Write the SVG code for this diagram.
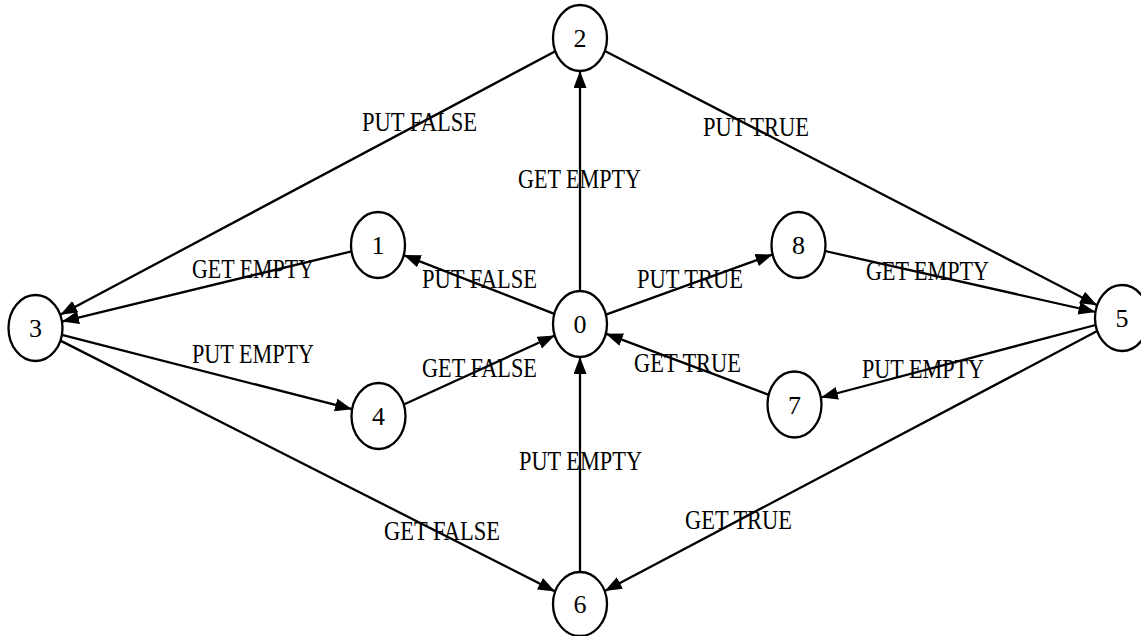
<svg xmlns="http://www.w3.org/2000/svg" width="1141" height="636" viewBox="0 0 1141 636">
<style>
.node ellipse{fill:#fff;stroke:#000;stroke-width:2.3}
.node text{font-family:"Liberation Serif","Times New Roman",serif;font-size:26px;text-anchor:middle;fill:#000}
.edges line{stroke:#000;stroke-width:2.3;marker-end:url(#arr)}
.lbl{font-family:"Liberation Serif","Times New Roman",serif;font-size:27px;fill:#000}
</style>
<defs>
<marker id="arr" markerUnits="userSpaceOnUse" markerWidth="18" markerHeight="14" refX="17" refY="6.5" orient="auto">
<path d="M0,0 L17,6.5 L0,13 z" fill="#000"/>
</marker>
</defs>
<rect width="1141" height="636" fill="#fff"/>
<g class="edges">
<line x1="580" y1="291" x2="580" y2="71"/>
<line x1="555.3" y1="51.2" x2="60.3" y2="314.8"/>
<line x1="604.9" y1="50.9" x2="1097.1" y2="305.2"/>
<line x1="351.5" y1="251.4" x2="62" y2="321.6"/>
<line x1="554.3" y1="313.9" x2="403.7" y2="255.1"/>
<line x1="605.9" y1="314.6" x2="772.6" y2="254.4"/>
<line x1="825" y1="251" x2="1095.5" y2="312"/>
<line x1="61.9" y1="334.8" x2="352.1" y2="409.2"/>
<line x1="403.8" y1="404.5" x2="554.7" y2="335.5"/>
<line x1="768.7" y1="394.8" x2="605.8" y2="333.7"/>
<line x1="1095.6" y1="325" x2="820.9" y2="397.5"/>
<line x1="1097.2" y1="331.1" x2="604.8" y2="590.9"/>
<line x1="60.4" y1="340.6" x2="555.1" y2="591.4"/>
<line x1="580" y1="571" x2="580" y2="357"/>
</g>
<g class="labels">
<text class="lbl" x="362" y="131" textLength="115" lengthAdjust="spacingAndGlyphs">PUT FALSE</text>
<text class="lbl" x="703" y="136" textLength="106" lengthAdjust="spacingAndGlyphs">PUT TRUE</text>
<text class="lbl" x="518" y="188" textLength="123" lengthAdjust="spacingAndGlyphs">GET EMPTY</text>
<text class="lbl" x="192" y="278" textLength="122" lengthAdjust="spacingAndGlyphs">GET EMPTY</text>
<text class="lbl" x="422" y="288" textLength="115" lengthAdjust="spacingAndGlyphs">PUT FALSE</text>
<text class="lbl" x="637" y="288" textLength="106" lengthAdjust="spacingAndGlyphs">PUT TRUE</text>
<text class="lbl" x="866" y="280" textLength="123" lengthAdjust="spacingAndGlyphs">GET EMPTY</text>
<text class="lbl" x="192" y="363" textLength="122" lengthAdjust="spacingAndGlyphs">PUT EMPTY</text>
<text class="lbl" x="422" y="377" textLength="115" lengthAdjust="spacingAndGlyphs">GET FALSE</text>
<text class="lbl" x="634" y="372" textLength="107" lengthAdjust="spacingAndGlyphs">GET TRUE</text>
<text class="lbl" x="862" y="378" textLength="122" lengthAdjust="spacingAndGlyphs">PUT EMPTY</text>
<text class="lbl" x="519" y="470" textLength="123" lengthAdjust="spacingAndGlyphs">PUT EMPTY</text>
<text class="lbl" x="384" y="540" textLength="116" lengthAdjust="spacingAndGlyphs">GET FALSE</text>
<text class="lbl" x="685" y="529" textLength="107" lengthAdjust="spacingAndGlyphs">GET TRUE</text>
</g>
<g id="node0" class="node"><ellipse cx="580" cy="324" rx="27" ry="33"/><text x="580" y="333">0</text></g>
<g id="node1" class="node"><ellipse cx="378" cy="245" rx="27" ry="33"/><text x="378" y="254">1</text></g>
<g id="node2" class="node"><ellipse cx="580" cy="38" rx="27" ry="33"/><text x="580" y="47">2</text></g>
<g id="node3" class="node"><ellipse cx="35.5" cy="328" rx="27" ry="33"/><text x="35.5" y="337">3</text></g>
<g id="node4" class="node"><ellipse cx="378.5" cy="416" rx="27" ry="33"/><text x="378.5" y="425">4</text></g>
<g id="node5" class="node"><ellipse cx="1122" cy="318" rx="27" ry="33"/><text x="1122" y="327">5</text></g>
<g id="node6" class="node"><ellipse cx="580" cy="604" rx="27" ry="32"/><text x="580" y="613">6</text></g>
<g id="node7" class="node"><ellipse cx="794.5" cy="404.5" rx="27" ry="33"/><text x="794.5" y="413.5">7</text></g>
<g id="node8" class="node"><ellipse cx="798.5" cy="245" rx="27" ry="33"/><text x="798.5" y="254">8</text></g>
</svg>
